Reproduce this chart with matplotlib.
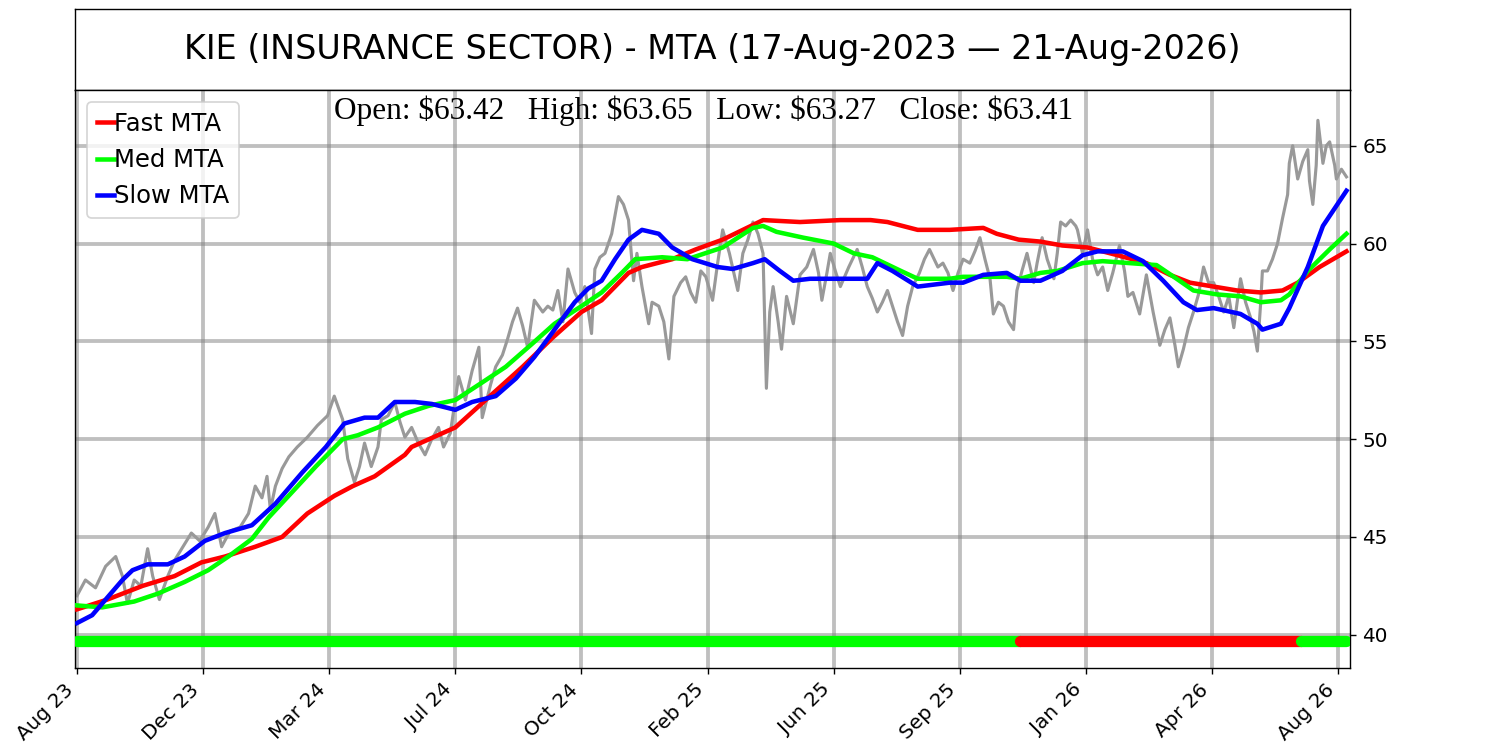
import matplotlib
matplotlib.use('Agg')
import matplotlib.pyplot as plt

# ---------------- data ----------------
title_text = "KIE (INSURANCE SECTOR) - MTA (17-Aug-2023 \u2014 21-Aug-2026)"
last_open, last_high, last_low, last_close = 63.42, 63.65, 63.27, 63.41

tick_days = [0, 75, 150, 225, 300, 375, 450, 525, 600, 675, 750]
tick_labels = ['Aug 23', 'Dec 23', 'Mar 24', 'Jul 24', 'Oct 24', 'Feb 25',
               'Jun 25', 'Sep 25', 'Jan 26', 'Apr 26', 'Aug 26']
n_days = 756

price_day = [0, 5, 11, 17, 23, 27, 30, 34, 38, 42, 45, 49, 54, 58, 63, 68, 73, 78, 82, 86,
             91, 97, 102, 106, 110, 113, 115, 118, 122, 126, 131, 137, 143, 149, 153, 158,
             161, 165, 168, 171, 175, 179, 181, 185, 189, 192, 195, 199, 203, 207, 211, 215,
             218, 222, 227, 231, 235, 239, 241, 246, 249, 253, 256, 259, 262, 265, 268, 272,
             277, 280, 283, 286, 289, 292, 296, 299, 302, 306, 308, 311, 314, 318, 322, 325,
             328, 331, 333, 336, 340, 342, 346, 349, 352, 355, 359, 362, 365, 368, 371, 374,
             378, 381, 384, 388, 393, 396, 399, 402, 405, 408, 410, 412, 414, 417, 419, 422,
             426, 430, 434, 438, 441, 443, 446, 448, 451, 454, 459, 464, 467, 470, 473, 476,
             479, 482, 485, 488, 491, 494, 497, 501, 504, 507, 512, 515, 518, 521, 524, 527,
             531, 534, 537, 540, 543, 545, 548, 551, 554, 557, 559, 562, 565, 569, 571, 574,
             577, 581, 583, 585, 588, 591, 594, 595, 598, 601, 604, 607, 610, 613, 616, 620,
             623, 625, 628, 632, 636, 640, 644, 647, 650, 653, 655, 658, 661, 664, 667, 670,
             673, 676, 679, 682, 685, 688, 690, 692, 695, 698, 700, 702, 704, 705, 708, 711,
             714, 717, 720, 721, 723, 726, 729, 732, 733, 735, 737, 738, 741, 743, 745, 748,
             749, 752, 755]
price_close = [42.0, 42.8, 42.4, 43.5, 44.0, 43.0, 41.6, 42.8, 42.5, 44.4, 43.0, 41.8, 43.0, 43.8,
               44.5, 45.2, 44.8, 45.5, 46.2, 44.5, 45.3, 45.5, 46.2, 47.6, 47.0, 48.1, 46.4, 47.6,
               48.5, 49.1, 49.6, 50.1, 50.7, 51.2, 52.2, 51.0, 49.0, 47.8, 48.6, 49.8, 48.6, 49.6,
               51.0, 51.2, 51.9, 50.9, 50.1, 50.6, 49.8, 49.2, 50.0, 50.6, 49.6, 50.3, 53.2, 52.0,
               53.5, 54.7, 51.1, 52.8, 53.7, 54.3, 55.1, 56.0, 56.7, 55.8, 54.7, 57.1, 56.5, 56.8,
               56.6, 57.6, 56.0, 58.7, 57.5, 57.0, 57.8, 55.4, 58.7, 59.3, 59.5, 60.5, 62.4, 62.0,
               61.2, 58.1, 59.5, 57.8, 55.9, 57.0, 56.8, 56.0, 54.1, 57.3, 58.0, 58.3, 57.5, 57.0,
               58.6, 58.3, 57.1, 59.0, 60.7, 59.5, 57.6, 59.5, 60.2, 61.1, 60.5, 59.5, 52.6, 56.5,
               57.8, 56.0, 54.6, 57.3, 55.9, 58.4, 58.8, 59.7, 58.5, 57.1, 58.5, 59.5, 58.6, 57.8,
               58.8, 59.7, 58.8, 57.8, 57.2, 56.5, 57.0, 57.6, 56.8, 56.0, 55.3, 56.8, 57.8, 58.5,
               59.2, 59.7, 58.8, 59.0, 58.5, 57.6, 58.5, 59.2, 59.0, 59.6, 60.3, 59.2, 58.2, 56.4,
               57.0, 56.8, 56.0, 55.6, 57.6, 58.6, 59.5, 58.0, 59.0, 60.3, 59.2, 58.2, 59.5, 61.1,
               60.9, 61.2, 60.9, 60.7, 59.5, 60.7, 59.2, 58.4, 58.8, 57.6, 58.5, 59.9, 58.6, 57.3,
               57.5, 56.4, 58.4, 56.5, 54.8, 55.6, 56.2, 54.8, 53.7, 54.6, 55.7, 56.5, 57.4, 58.8,
               58.0, 58.0, 57.3, 56.5, 57.3, 55.7, 57.0, 58.2, 57.0, 56.2, 55.5, 54.5, 57.0, 58.6,
               58.6, 59.2, 60.0, 61.3, 62.5, 64.1, 65.0, 63.3, 64.2, 64.8, 63.2, 62.0, 64.0, 66.3,
               64.1, 65.0, 65.2, 64.0, 63.3, 63.8, 63.41]

fast_day = [0, 18, 39, 58, 74, 88, 106, 122, 137, 153, 164, 177, 195, 199, 225, 243, 265, 283,
            300, 312, 328, 336, 354, 368, 384, 408, 430, 454, 472, 482, 500, 519, 539, 547, 560,
            573, 586, 601, 619, 636, 650, 662, 676, 690, 704, 717, 726, 739, 755]
fast_mta = [41.3, 41.8, 42.5, 43.0, 43.7, 44.0, 44.5, 45.0, 46.2, 47.1, 47.6, 48.1, 49.2, 49.6,
            50.6, 52.0, 53.7, 55.2, 56.5, 57.1, 58.5, 58.8, 59.2, 59.7, 60.2, 61.2, 61.1, 61.2,
            61.2, 61.1, 60.7, 60.7, 60.8, 60.5, 60.2, 60.1, 59.9, 59.8, 59.4, 59.0, 58.4, 58.0,
            57.8, 57.6, 57.5, 57.6, 58.0, 58.8, 59.6]

med_day = [0, 15, 34, 48, 64, 78, 90, 104, 114, 128, 142, 158, 167, 179, 195, 209, 225, 241,
           255, 271, 284, 300, 312, 324, 332, 348, 363, 384, 402, 408, 416, 432, 450, 462, 473,
           490, 500, 519, 527, 553, 561, 573, 583, 598, 610, 626, 642, 654, 664, 678, 692, 704,
           716, 721, 732, 745, 755]
med_mta = [41.5, 41.4, 41.7, 42.1, 42.7, 43.3, 44.0, 44.9, 46.0, 47.3, 48.6, 50.0, 50.2, 50.6,
           51.3, 51.7, 52.0, 52.9, 53.7, 54.9, 55.9, 56.8, 57.5, 58.5, 59.2, 59.3, 59.2, 59.8,
           60.8, 60.9, 60.6, 60.3, 60.0, 59.5, 59.3, 58.6, 58.2, 58.2, 58.3, 58.3, 58.2, 58.5,
           58.6, 59.0, 59.1, 59.0, 58.9, 58.2, 57.6, 57.4, 57.3, 57.0, 57.1, 57.4, 58.6, 59.7,
           60.5]

slow_day = [0, 9, 18, 27, 33, 42, 54, 64, 76, 88, 104, 118, 134, 148, 159, 171, 179, 189, 201,
            211, 225, 235, 249, 261, 272, 284, 296, 304, 312, 320, 328, 336, 346, 354, 366, 381,
            390, 402, 409, 418, 426, 436, 450, 470, 476, 485, 500, 519, 527, 539, 553, 561, 573,
            586, 598, 607, 622, 634, 646, 658, 666, 676, 692, 702, 705, 716, 721, 732, 741, 755]
slow_mta = [40.6, 41.0, 41.9, 42.8, 43.3, 43.6, 43.6, 44.0, 44.8, 45.2, 45.6, 46.7, 48.3, 49.6,
            50.8, 51.1, 51.1, 51.9, 51.9, 51.8, 51.5, 51.9, 52.2, 53.1, 54.2, 55.6, 57.0, 57.7,
            58.1, 59.2, 60.2, 60.7, 60.5, 59.8, 59.2, 58.8, 58.7, 59.0, 59.2, 58.6, 58.1, 58.2,
            58.2, 58.2, 59.0, 58.6, 57.8, 58.0, 58.0, 58.4, 58.5, 58.1, 58.1, 58.6, 59.4, 59.6,
            59.6, 59.1, 58.1, 57.0, 56.6, 56.7, 56.4, 55.9, 55.6, 55.9, 56.7, 58.8, 60.9, 62.7]

signal_starts = [0, 561, 728]
signal_ends = [561, 728, 755]
signal_colors = ['lime', 'red', 'lime']
signal_level = 39.7

# ---------------- figure ----------------
fig = plt.figure(figsize=(12, 6), dpi=125)
ax_t = fig.add_axes([0.05, 0.88, 0.85, 0.108])
ax = fig.add_axes([0.05, 0.1093, 0.85, 0.7707])

ax_t.set_xticks([])
ax_t.set_yticks([])
ax_t.text(0.5, 0.5, title_text, ha='center', va='center', fontsize=19.2,
          transform=ax_t.transAxes)

ax.plot(price_day, price_close, color='#999999', lw=1.8, zorder=2)
ax.plot(fast_day, fast_mta, color='red', lw=2.6, label='Fast MTA', zorder=3)
ax.plot(med_day, med_mta, color='lime', lw=2.6, label='Med MTA', zorder=3)
ax.plot(slow_day, slow_mta, color='blue', lw=2.6, label='Slow MTA', zorder=3)

for s, e, c in zip(signal_starts, signal_ends, signal_colors):
    ax.plot([s, e], [signal_level, signal_level], color=c, lw=6.5,
            solid_capstyle='round', zorder=4)

ax.set_xlim(-1.2, 757.1)
ax.set_ylim(38.3, 67.85)
ax.yaxis.tick_right()
ax.set_yticks([40, 45, 50, 55, 60, 65])
ax.set_xticks(tick_days)
ax.set_xticklabels(tick_labels, rotation=45, ha='right')
ax.tick_params(axis='both', labelsize=11.5)
ax.grid(True, color='gray', alpha=0.5, lw=2.2)
ax.set_axisbelow(True)

ohlc = (f"Open: \\${last_open:.2f}   High: \\${last_high:.2f}   "
        f"Low: \\${last_low:.2f}   Close: \\${last_close:.2f}")
ax.text(0.4933, 0.99, ohlc, transform=ax.transAxes, ha='center', va='top',
        fontsize=18, family='Liberation Serif', zorder=6)

ax.legend(loc='upper left', fontsize=14, handlelength=0.7, handletextpad=0.02)

fig.savefig('out.png', dpi=125)
